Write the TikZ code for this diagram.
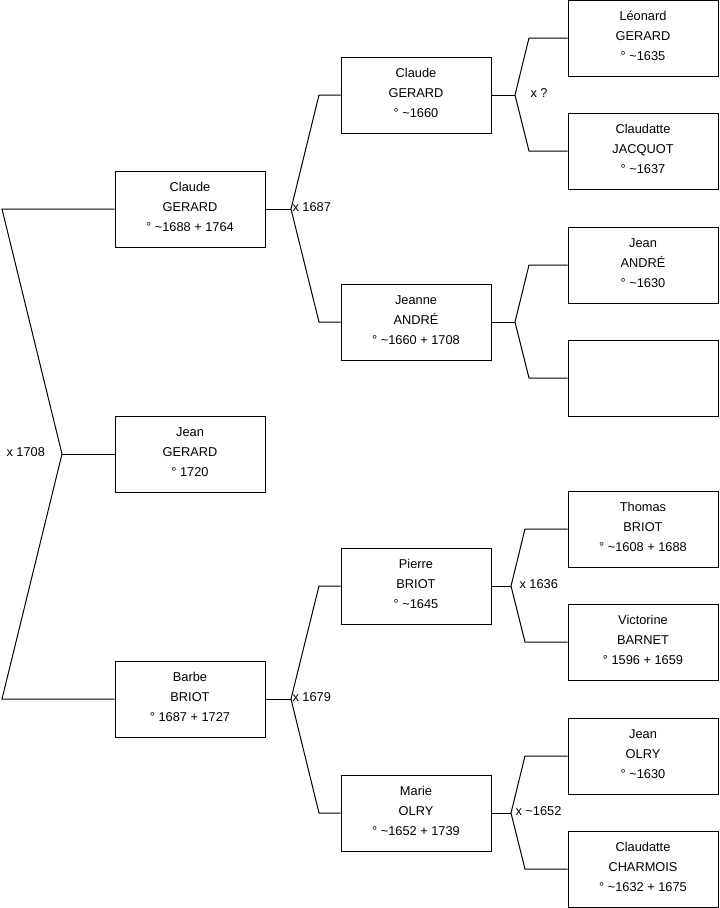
\documentclass[tikz,border=0pt]{standalone}
\usepackage{fontspec}
\setmainfont{Liberation Sans}
\usetikzlibrary{calc}

\newcommand{\tl}{\textasciitilde}

\tikzset{
   every path/.style={line width=0.75pt},
   person/.style={draw, fill=white, minimum width=112.5pt, minimum height=57pt,
                  inner sep=0pt, align=center,
                  execute at end node={\rule[-3pt]{0pt}{3pt}},
                  font=\fontsize{9.6}{15}\selectfont},
   union/.style={anchor=west, inner sep=0pt, font=\fontsize{9.6}{11}\selectfont},
}

\begin{document}
\begin{tikzpicture}[x=0.75pt, y=-0.75pt]
\useasboundingbox (0,0) rectangle (719,908);

% ------------------------------------------------------------
% Generation 1
% ------------------------------------------------------------
\node[person] (claude1) at (190,209) {Claude\\GERARD\\° \tl1688 + 1764};
\node[person] (jean)    at (190,454) {Jean\\GERARD\\° 1720};
\node[person] (barbe)   at (190,699) {Barbe\\BRIOT\\° 1687 + 1727};

% ------------------------------------------------------------
% Generation 2
% ------------------------------------------------------------
\node[person] (claude2) at (416,95)  {Claude\\GERARD\\° \tl1660};
\node[person] (jeanne)  at (416,322) {Jeanne\\ANDRÉ\\° \tl1660 + 1708};
\node[person] (pierre)  at (416,586) {Pierre\\BRIOT\\° \tl1645};
\node[person] (marie)   at (416,813) {Marie\\OLRY\\° \tl1652 + 1739};

% ------------------------------------------------------------
% Generation 3
% ------------------------------------------------------------
\node[person] (leonard)    at (643,38)  {Léonard\\GERARD\\° \tl1635};
\node[person] (claudatteJ) at (643,151) {Claudatte\\JACQUOT\\° \tl1637};
\node[person] (jeanA)      at (643,265) {Jean\\ANDRÉ\\° \tl1630};
\node[person] (inconnu)    at (643,378) {};
\node[person] (thomas)     at (643,529) {Thomas\\BRIOT\\° \tl1608 + 1688};
\node[person] (victorine)  at (643,642) {Victorine\\BARNET\\° 1596 + 1659};
\node[person] (jeanO)      at (643,756) {Jean\\OLRY\\° \tl1630};
\node[person] (claudatteC) at (643,869) {Claudatte\\CHARMOIS\\° \tl1632 + 1675};

% ------------------------------------------------------------
% Unions
% ------------------------------------------------------------

% Jean GERARD
\coordinate (j0) at (62,454);
\coordinate (a0) at (2,209);
\coordinate (b0) at (2,699);
\draw (claude1.west) -- (a0) -- (j0) -- (b0) -- (barbe.west);
\draw (j0) -- (jean.west);
\node[union] (u0) at (6,452) {x 1708};

% Claude GERARD
\coordinate (j1) at (291,209);
\coordinate (a1) at (319,95);
\coordinate (b1) at (319,322);
\draw (claude1.east) -- (j1);
\draw (claude2.west) -- (a1) -- (j1) -- (b1) -- (jeanne.west);
\node[union] (u1) at (292,207) {x 1687};

% Barbe BRIOT
\coordinate (j2) at (291,699);
\coordinate (a2) at (319,586);
\coordinate (b2) at (319,813);
\draw (barbe.east) -- (j2);
\draw (pierre.west) -- (a2) -- (j2) -- (b2) -- (marie.west);
\node[union] (u2) at (292,697) {x 1679};

% Claude GERARD (2)
\coordinate (j3) at (515,95);
\coordinate (a3) at (529,38);
\coordinate (b3) at (529,151);
\draw (claude2.east) -- (j3);
\draw (leonard.west) -- (a3) -- (j3) -- (b3) -- (claudatteJ.west);
\node[union] (u3) at (530,93) {x ?};

% Jeanne ANDRE
\coordinate (j4) at (515,322);
\coordinate (a4) at (529,265);
\coordinate (b4) at (529,378);
\draw (jeanne.east) -- (j4);
\draw (jeanA.west) -- (a4) -- (j4) -- (b4) -- (inconnu.west);

% Pierre BRIOT
\coordinate (j5) at (511,586);
\coordinate (a5) at (525,529);
\coordinate (b5) at (525,642);
\draw (pierre.east) -- (j5);
\draw (thomas.west) -- (a5) -- (j5) -- (b5) -- (victorine.west);
\node[union] (u5) at (519,584) {x 1636};

% Marie OLRY
\coordinate (j6) at (511,813);
\coordinate (a6) at (525,756);
\coordinate (b6) at (525,869);
\draw (marie.east) -- (j6);
\draw (jeanO.west) -- (a6) -- (j6) -- (b6) -- (claudatteC.west);
\node[union] (u6) at (515,811) {x \tl1652};
\end{tikzpicture}
\end{document}
